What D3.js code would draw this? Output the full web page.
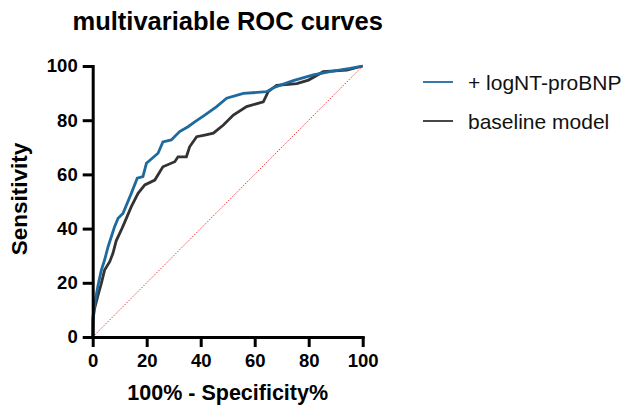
<!DOCTYPE html>
<html>
<head>
<meta charset="utf-8">
<script src="https://cdn.jsdelivr.net/npm/d3@7"></script>
<style>
  html, body { margin: 0; padding: 0; background: #fff; }
  svg text { font-family: "Liberation Sans", Arial, Helvetica, sans-serif; }
</style>
</head>
<body>
<svg id="chart" width="628" height="407"></svg>
<script>
// --- data (100% - specificity %, sensitivity %) ---
const seriesNames = ["+ logNT-proBNP", "baseline model"];
const seriesColors = ["#1f6a9c", "#333333"];

const fprNtProBnp = [0, 0.1, 1, 2, 3.2, 4.4, 5.7, 6.9, 8.1, 9.4, 11.2, 14.3, 16.5, 18.6, 19.9, 24.2, 26, 29.1, 32.2, 35.3, 37.8, 41.5, 45.9, 49.6, 55.8, 64.4, 67.5, 74.3, 81.7, 87.9, 95.3, 100];
const tprNtProBnp = [0, 7.5, 13.7, 19.2, 24.7, 28.4, 33.3, 37, 40.7, 43.8, 45.6, 53, 58.6, 59.2, 64.1, 67.8, 72, 72.7, 75.8, 77.6, 79.4, 81.9, 85, 88.1, 89.9, 90.5, 92.2, 94.6, 96.7, 97.9, 99.1, 100];

const fprBaseline = [0, 0.1, 0.7, 2, 3.2, 4.4, 6.3, 7.5, 8.7, 10.6, 11.9, 14.3, 16.8, 19.3, 23, 26, 30.4, 31.6, 34.7, 35.9, 38.5, 41.5, 44.7, 48.4, 52.1, 57, 63.2, 65, 68.1, 75.6, 79.9, 85.4, 94.1, 100];
const tprBaseline = [0, 6.3, 10.6, 15.5, 19.8, 24.7, 27.8, 30.9, 35.5, 39.5, 42.5, 48.1, 53, 56.1, 57.9, 62.8, 64.7, 66.5, 66.5, 70.2, 73.9, 74.5, 75.2, 78.2, 81.9, 85, 86.8, 90.5, 92.9, 93.5, 94.8, 97.9, 98.5, 100];

const xTicks = [0, 20, 40, 60, 80, 100];
const yTicks = [0, 20, 40, 60, 80, 100];

const series = [
  { name: seriesNames[0], color: seriesColors[0], pts: fprNtProBnp.map((x, i) => [x, tprNtProBnp[i]]) },
  { name: seriesNames[1], color: seriesColors[1], pts: fprBaseline.map((x, i) => [x, tprBaseline[i]]) }
];

const svg = d3.select("#chart");

const x = d3.scaleLinear().domain([0, 100]).range([92.7, 362.7]);
const y = d3.scaleLinear().domain([0, 100]).range([337, 66]);

// --- reference diagonal ---
svg.append("line")
  .attr("x1", x(0)).attr("y1", y(0))
  .attr("x2", x(100)).attr("y2", y(100))
  .attr("stroke", "#e23a3a")
  .attr("stroke-width", 1)
  .attr("stroke-dasharray", "1.5,1.5");

// --- curves (baseline first, so the blue one sits on top) ---
const line = d3.line().x(d => x(d[0])).y(d => y(d[1]));
series.slice().reverse().forEach(s => {
  svg.append("path")
    .datum(s.pts)
    .attr("fill", "none")
    .attr("stroke", s.color)
    .attr("stroke-width", 2.8)
    .attr("stroke-linejoin", "miter")
    .attr("d", line);
});

// --- axes ---
const xAxis = svg.append("g")
  .attr("transform", `translate(0,${y(0)})`)
  .call(d3.axisBottom(x).tickValues(xTicks).tickSize(10).tickSizeOuter(0).tickPadding(7));
const yAxis = svg.append("g")
  .attr("transform", `translate(${x(0)},0)`)
  .call(d3.axisLeft(y).tickValues(yTicks).tickSize(10).tickSizeOuter(0).tickPadding(5));

[xAxis, yAxis].forEach(g => {
  g.select(".domain").attr("stroke", "#000").attr("stroke-width", 3).attr("stroke-linecap", "square");
  g.selectAll(".tick line").attr("stroke", "#000").attr("stroke-width", 3);
  g.selectAll(".tick text")
    .attr("fill", "#000")
    .style("font-family", '"Liberation Sans", Arial, sans-serif')
    .style("font-size", "18.5px")
    .style("font-weight", "bold");
});

// --- titles ---
svg.append("text")
  .attr("x", 227.7).attr("y", 30)
  .attr("text-anchor", "middle")
  .style("font-size", "25.5px").style("font-weight", "bold")
  .text("multivariable ROC curves");

svg.append("text")
  .attr("x", 227.7).attr("y", 400)
  .attr("text-anchor", "middle")
  .style("font-size", "21.5px").style("font-weight", "bold")
  .text("100% - Specificity%");

svg.append("text")
  .attr("transform", "translate(27,199) rotate(-90)")
  .attr("text-anchor", "middle")
  .style("font-size", "22.5px").style("font-weight", "bold")
  .text("Sensitivity");

// --- legend ---
const legend = svg.append("g").attr("transform", "translate(423,82)");
series.forEach((s, i) => {
  const row = legend.append("g").attr("transform", `translate(0,${i * 39})`);
  row.append("line")
    .attr("x1", 0).attr("x2", 30)
    .attr("stroke", s.color).attr("stroke-width", 1.8);
  row.append("text")
    .attr("x", 45).attr("y", 8)
    .style("font-size", "21px")
    .attr("fill", "#111")
    .text(s.name);
});
</script>
</body>
</html>
